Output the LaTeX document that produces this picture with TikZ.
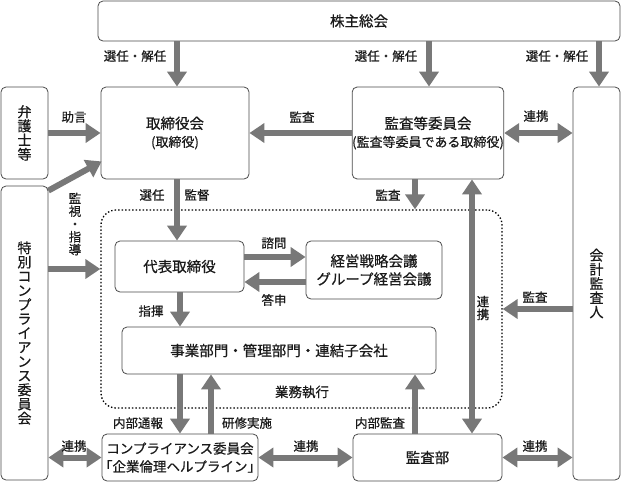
\documentclass[tikz,border=0pt]{standalone}
\usepackage{fontspec}
\setmainfont{Noto Sans CJK JP}[FakeBold=0.6,AutoFakeBold=0]
\usetikzlibrary{arrows.meta,calc}
\definecolor{arrgray}{HTML}{787878}
\definecolor{boxline}{HTML}{4A4A4A}
\definecolor{txt}{HTML}{1A1A1A}
\newcommand{\lbr}{\makebox[7pt][r]{「}}
\newcommand{\rbr}{\makebox[7pt][l]{」}}
\begin{document}
\begin{tikzpicture}[x=1pt,y=-1pt,
 box/.style={draw=boxline, line width=0.8pt, rounded corners=5pt, inner sep=0pt, align=center, font=\fontsize{14.5}{18}\selectfont, text=txt},
 vbox/.style={box, font=\fontsize{14}{14.2}\selectfont},
 arr/.style={draw=arrgray, line width=6pt, -{Triangle[length=15pt,width=19pt]}},
 darr/.style={draw=arrgray, line width=6pt, {Triangle[length=15pt,width=19pt]}-{Triangle[length=15pt,width=19pt]}},
 lab/.style={font=\fontsize{12.5}{13}\selectfont, text=txt, inner sep=0pt},
 vlab/.style={lab, align=center, font=\fontsize{12.5}{12.8}\selectfont},
]
\useasboundingbox (0,0) rectangle (621,482);
% boxes
\node[box, minimum width=522pt, minimum height=40pt] (sh) at (359,21) {株主総会};
\node[box, minimum width=148pt, minimum height=92pt] (bod) at (175,133) {取締役会\\{\fontsize{13}{17}\selectfont (取締役)}};
\node[vbox, minimum width=47pt, minimum height=92pt] (law) at (24.5,133) {弁\\護\\士\\等};
\node[vbox, minimum width=47pt, minimum height=294pt] (spc) at (24.5,333) {特\\別\\コ\\ン\\プ\\ラ\\イ\\ア\\ン\\ス\\委\\員\\会};
\node[box, minimum width=148pt, minimum height=92pt] (ac) at (428,133) {監査等委員会\\{\fontsize{13}{17}\selectfont (監査等委員である取締役)}};
\node[vbox, minimum width=47pt, minimum height=393pt] (ea) at (596.5,283.5) {会\\計\\監\\査\\人};
\node[draw=black, line width=1.3pt, dash pattern=on 1.4pt off 2.1pt, rounded corners=15pt, minimum width=401pt, minimum height=198pt, inner sep=0pt] (exec) at (301.5,309) {};
\node[box, minimum width=129pt, minimum height=51pt] (rep) at (179.5,266.5) {代表取締役};
\node[box, minimum width=136pt, minimum height=58pt] (mtg) at (374,270) {経営戦略会議\\グループ経営会議};
\node[box, minimum width=314pt, minimum height=47pt] (biz) at (279,350.5) {事業部門・管理部門・連結子会社};
\node[box, minimum width=156pt, minimum height=47pt, font=\fontsize{13.5}{18}\selectfont] (cc) at (180,457.5) {コンプライアンス委員会\\\lbr 企業倫理ヘルプライン\rbr};
\node[box, minimum width=149pt, minimum height=47pt] (ia) at (427.5,457.5) {監査部};
% arrows
\draw[arr] (sh.south -| 177,0) -- (bod.north -| 177,0);
\draw[arr] (sh.south -| 429,0) -- (ac.north -| 429,0);
\draw[arr] (sh.south -| 599,0) -- (ea.north -| 599,0);
\draw[arr] (law.east) -- (bod.west);
\draw[arr] ($(spc.north east)+(0,5)$) -- ($(bod.south west)+(1,-18)$);
\draw[arr] (spc.east |- 0,269) -- (exec.west |- 0,269);
\draw[arr] (ac.west) -- (bod.east);
\draw[darr] (ac.east) -- (ea.west |- ac.east);
\draw[arr] (bod.south -| 177,0) -- (rep.north -| 177,0);
\draw[arr] (ac.south -| 415,0) -- (exec.north -| 415,0);
\draw[darr] (ac.south -| 472,0) -- (ia.north -| 472,0);
\draw[arr] (rep.east |- 0,257) -- (mtg.west |- 0,257);
\draw[arr] (mtg.west |- 0,282) -- (rep.east |- 0,282);
\draw[arr] (rep.south -| 180,0) -- (biz.north -| 180,0);
\draw[arr] (ea.west |- 0,309) -- (exec.east |- 0,309);
\draw[arr] (biz.south -| 180,0) -- (cc.north -| 180,0);
\draw[arr] (cc.north -| 211,0) -- (biz.south -| 211,0);
\draw[arr] (ia.north -| 415,0) -- (biz.south -| 415,0);
\draw[darr] (spc.east |- cc.west) -- (cc.west);
\draw[darr] (ia.west) -- (cc.east);
\draw[darr] (ia.east) -- (ea.west |- ia.east);
% labels
\node[lab] (l1) at (135,56) {選任・解任};
\node[lab] (l2) at (386,56) {選任・解任};
\node[lab] (l3) at (557,56) {選任・解任};
\node[lab] (l4) at (74,117) {助言};
\node[lab] (l5) at (302,117) {監査};
\node[lab] (l6) at (536,116) {連携};
\node[vlab] (l7) at (75,224) {監\\視\\・\\指\\導};
\node[lab] (l8) at (152,195) {選任};
\node[lab] (l9) at (197,195) {監督};
\node[lab] (l10) at (388,195) {監査};
\node[lab] (l11) at (274,243) {諮問};
\node[lab] (l12) at (274,300) {答申};
\node[lab] (l13) at (151,311) {指揮};
\node[lab] (l14) at (535,297) {監査};
\node[vlab] (l15) at (483,308) {連\\携};
\node[lab, font=\fontsize{13.5}{14}\selectfont] (l16) at (302,392) {業務執行};
\node[lab] (l17) at (138,423) {内部通報};
\node[lab] (l18) at (247,423) {研修実施};
\node[lab] (l19) at (380,423) {内部監査};
\node[lab] (l20) at (74,446) {連携};
\node[lab] (l21) at (306,446) {連携};
\node[lab] (l22) at (535,446) {連携};
\end{tikzpicture}
\end{document}
